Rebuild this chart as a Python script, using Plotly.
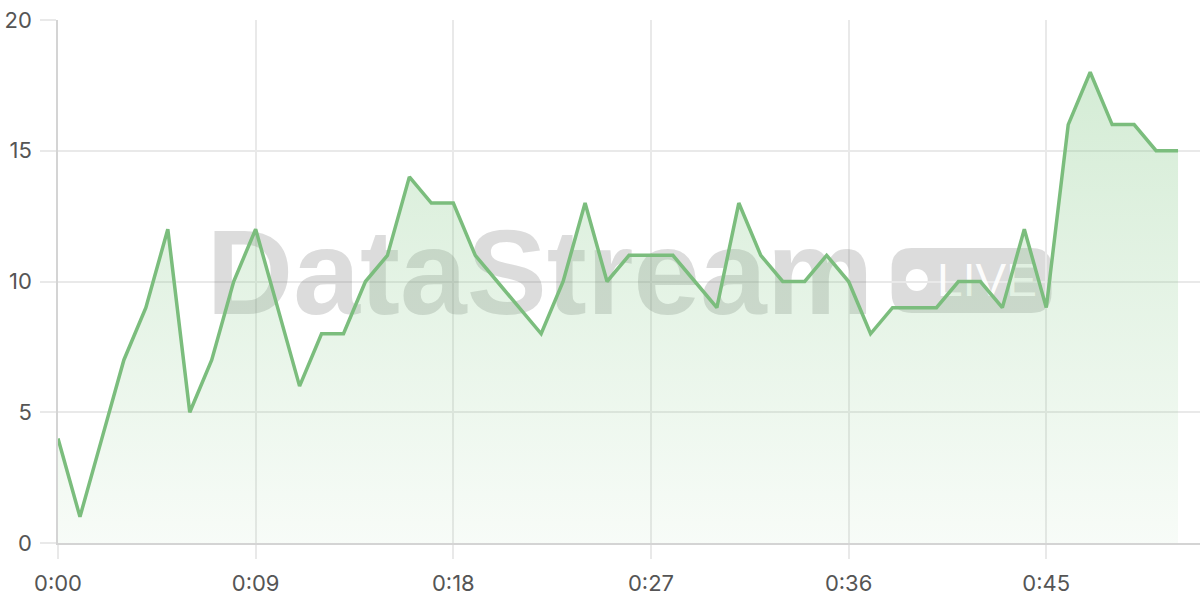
import plotly.graph_objects as go

# Seconds since start and the value sampled at each second
seconds = list(range(52))
values = [4, 1, 4, 7, 9, 12, 5, 7, 10, 12,
          9, 6, 8, 8, 10, 11, 14, 13, 13, 11,
          10, 9, 8, 10, 13, 10, 11, 11, 11, 10,
          9, 13, 11, 10, 10, 11, 10, 8, 9, 9,
          9, 10, 10, 9, 12, 9, 16, 18, 16, 16,
          15, 15]

tick_vals = [0, 9, 18, 27, 36, 45]
tick_text = [f"0:{s:02d}" for s in tick_vals]

line_color = "#7bbd7d"
grid_color = "#e9e9e9"
font = "Inter"

fig = go.Figure()

# watermark text, drawn first so the data sits above it
fig.add_trace(go.Scatter(
    x=[21.95, 42.3], y=[9.92, 9.9],
    mode="text",
    text=["<b>DataStream</b>", "LIVE"],
    textfont=dict(family="Liberation Sans", size=[120, 46],
                  color=["rgba(120,120,120,0.26)", "rgba(255,255,255,0.95)"]),
    hoverinfo="skip", showlegend=False,
))

fig.add_trace(go.Scatter(
    x=seconds, y=values,
    mode="lines",
    line=dict(color=line_color, width=3.5),
    fill="tozeroy",
    fillgradient=dict(type="vertical", start=0, stop=18,
                      colorscale=[[0, "rgba(129,199,132,0.06)"],
                                  [1, "rgba(129,199,132,0.34)"]]),
    showlegend=False,
))

# "LIVE" pill and its dot (paper coords)
px0, px1, py0, py1 = 0.730, 0.870, 0.440, 0.564
rx, ry = 0.0175, 0.038
pill = (f"M {px0+rx},{py0} L {px1-rx},{py0} Q {px1},{py0} {px1},{py0+ry} "
        f"L {px1},{py1-ry} Q {px1},{py1} {px1-rx},{py1} L {px0+rx},{py1} "
        f"Q {px0},{py1} {px0},{py1-ry} L {px0},{py0+ry} Q {px0},{py0} {px0+rx},{py0} Z")
fig.add_shape(type="path", path=pill, xref="paper", yref="paper",
              fillcolor="rgba(120,120,120,0.26)", line_width=0, layer="below")
fig.add_shape(type="circle", xref="paper", yref="paper",
              x0=0.752 - 0.0096, x1=0.752 + 0.0096, y0=0.503 - 0.021, y1=0.503 + 0.021,
              fillcolor="white", line_width=0, layer="below")

fig.update_layout(
    width=1200, height=600,
    margin=dict(l=58, r=0, t=20, b=57),
    paper_bgcolor="white", plot_bgcolor="white",
    font=dict(family=font, size=22, color="#555555"),
    hovermode=False,
)
fig.update_xaxes(
    range=[0, 52], tickvals=tick_vals, ticktext=tick_text,
    showgrid=True, gridcolor=grid_color, gridwidth=1.5,
    ticks="outside", ticklen=14, tickcolor=grid_color, tickwidth=1.5,
    ticklabelstandoff=6,
    showline=True, linecolor="#d4d4d4", linewidth=1.5,
    zeroline=False, automargin=False,
)
fig.update_yaxes(
    range=[0, 20], tickvals=[0, 5, 10, 15, 20],
    showgrid=True, gridcolor=grid_color, gridwidth=1.5,
    ticks="outside", ticklen=16, tickcolor=grid_color, tickwidth=1.5,
    ticklabelstandoff=4,
    showline=True, linecolor="#d4d4d4", linewidth=1.5,
    zeroline=False, automargin=False,
)

# drop the page's default body margin so the figure fills the window
fig.write_html("out.html", config={"displayModeBar": False},
               post_script="document.body.style.margin='0';document.body.style.overflow='hidden';")
